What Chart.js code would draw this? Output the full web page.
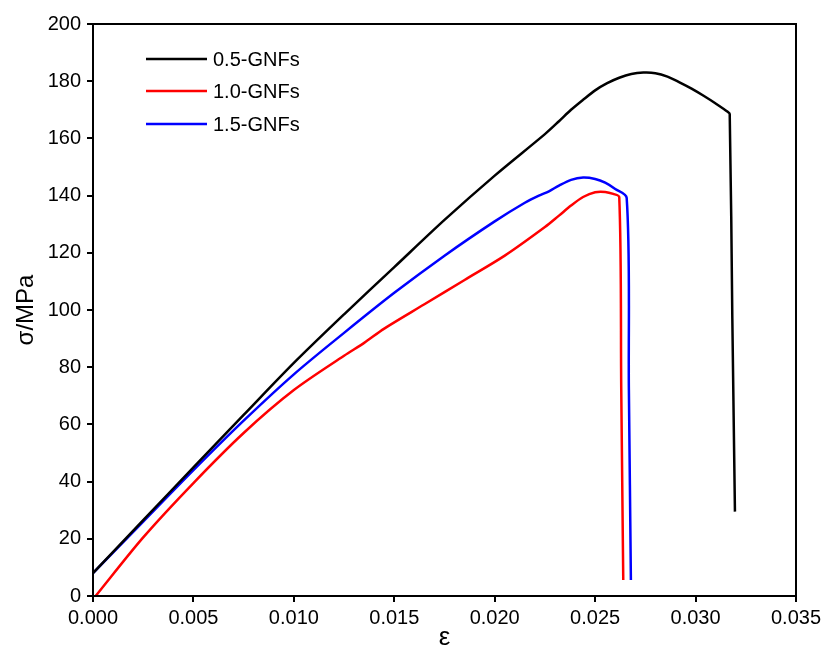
<!DOCTYPE html>
<html>
<head>
<meta charset="utf-8">
<script src="https://cdn.jsdelivr.net/npm/chart.js@4.4.1/dist/chart.umd.min.js"></script>
<style>
html,body{margin:0;padding:0;background:#fff;}
#wrap{width:826px;height:653px;position:relative;}
</style>
</head>
<body>
<div id="wrap"><canvas id="c" width="826" height="653"></canvas></div>
<script>
// Data
const seriesLabels = ["0.5-GNFs", "1.0-GNFs", "1.5-GNFs"];
const strain05 = [0, 0.0025, 0.005, 0.0075, 0.010, 0.0125, 0.015, 0.0175, 0.020, 0.0225, 0.0232, 0.0238, 0.0244, 0.0250, 0.0256, 0.0262, 0.0268, 0.0274, 0.0280, 0.0286, 0.0292, 0.0298, 0.0304, 0.0310, 0.0316, 0.0317, 0.03183, 0.03196];
const stress05 = [8, 26.5, 45, 63.3, 81.5, 98.5, 115, 131.5, 147, 161.5, 166, 170, 173.5, 176.8, 179.3, 181.2, 182.5, 183, 182.8, 181.6, 179.6, 177.4, 174.9, 172.2, 169.3, 168.5, 97, 29.5];
const strain10 = [0.00013, 0.0025, 0.005, 0.0075, 0.010, 0.0125, 0.0135, 0.0145, 0.0165, 0.0185, 0.0205, 0.0225, 0.0232, 0.0238, 0.0244, 0.0250, 0.0255, 0.0259, 0.0262, 0.0263, 0.0264];
const stress10 = [0, 20.5, 39.5, 57, 72, 84, 88.5, 93.5, 102, 110.5, 119, 129, 133, 136.5, 139.5, 141.2, 141.3, 140.6, 139.5, 72, 5.6];
const strain15 = [0, 0.0025, 0.005, 0.0075, 0.010, 0.0125, 0.015, 0.0175, 0.020, 0.0215, 0.0222, 0.0227, 0.0232, 0.0238, 0.0244, 0.0250, 0.0255, 0.0260, 0.02657, 0.02668, 0.02678];
const stress15 = [8, 26, 44, 61.3, 77.5, 92, 106, 119, 131, 137.5, 140, 141.5, 143.5, 145.5, 146.3, 145.8, 144.5, 142.3, 139.2, 72, 5.6];
const xTicks = [0, 0.005, 0.010, 0.015, 0.020, 0.025, 0.030, 0.035];
const yTicks = [0, 20, 40, 60, 80, 100, 120, 140, 160, 180, 200];
const colors = ["#000000", "#ff0000", "#0000ff"];

function pts(xs, ys){ return xs.map((x,i)=>({x:x, y:ys[i]})); }

const FONT = "'Liberation Sans', Arial, sans-serif";

const framePlugin = {
  id: 'frame',
  afterDatasetsDraw(chart){
    const {ctx, chartArea:a} = chart;
    ctx.save();
    ctx.strokeStyle = '#000';
    ctx.lineWidth = 2;
    ctx.strokeRect(a.left, a.top, a.right - a.left, a.bottom - a.top);
    // legend
    const lx0 = 146, lx1 = 207, ys = [59, 91, 124];
    ctx.font = "20px " + FONT;
    ctx.textBaseline = 'middle';
    ctx.fillStyle = '#000';
    chart.data.datasets.forEach((d,i)=>{
      ctx.strokeStyle = d.borderColor;
      ctx.lineWidth = 2.5;
      ctx.beginPath();
      ctx.moveTo(lx0, ys[i]);
      ctx.lineTo(lx1, ys[i]);
      ctx.stroke();
      ctx.fillText(d.label, 213, ys[i] + 1);
    });
    ctx.restore();
  }
};

new Chart(document.getElementById('c'), {
  type: 'scatter',
  data: {
    datasets: [
      {label: seriesLabels[0], data: pts(strain05, stress05), borderColor: colors[0]},
      {label: seriesLabels[1], data: pts(strain10, stress10), borderColor: colors[1]},
      {label: seriesLabels[2], data: pts(strain15, stress15), borderColor: colors[2]}
    ].map(d => Object.assign(d, {showLine: true, pointRadius: 0, borderWidth: 2.5, tension: 0.3, borderJoinStyle: 'round', backgroundColor: d.borderColor}))
  },
  options: {
    responsive: false,
    animation: false,
    devicePixelRatio: 1,
    layout: {padding: {top: 24, right: 30, left: 0, bottom: 0}},
    plugins: {legend: {display: false}, tooltip: {enabled: false}},
    scales: {
      x: {
        type: 'linear', min: 0, max: 0.035,
        afterBuildTicks: s => { s.ticks = xTicks.map(v => ({value: v})); },
        afterFit: s => { s.height = 57; },
        ticks: {color: '#000', font: {family: FONT, size: 20}, padding: 4, maxRotation: 0,
          callback: v => v.toFixed(3)},
        grid: {display: true, drawOnChartArea: false, drawTicks: true, tickLength: 6, color: '#000', lineWidth: 2, tickWidth: 2},
        border: {display: true, color: '#000', width: 2},
        title: {display: true, text: 'ε', color: '#000', font: {family: FONT, size: 26}, padding: {top: 0, bottom: 0}}
      },
      y: {
        type: 'linear', min: 0, max: 200,
        afterBuildTicks: s => { s.ticks = yTicks.map(v => ({value: v})); },
        afterFit: s => { s.width = 93; },
        ticks: {color: '#000', font: {family: FONT, size: 20}, padding: 6,
          callback: v => String(v)},
        grid: {display: true, drawOnChartArea: false, drawTicks: true, tickLength: 6, color: '#000', lineWidth: 2, tickWidth: 2},
        border: {display: true, color: '#000', width: 2},
        title: {display: true, text: 'σ/MPa', color: '#000', font: {family: FONT, size: 24}, padding: {top: 12, bottom: 4}}
      }
    }
  },
  plugins: [framePlugin]
});
</script>
</body>
</html>
